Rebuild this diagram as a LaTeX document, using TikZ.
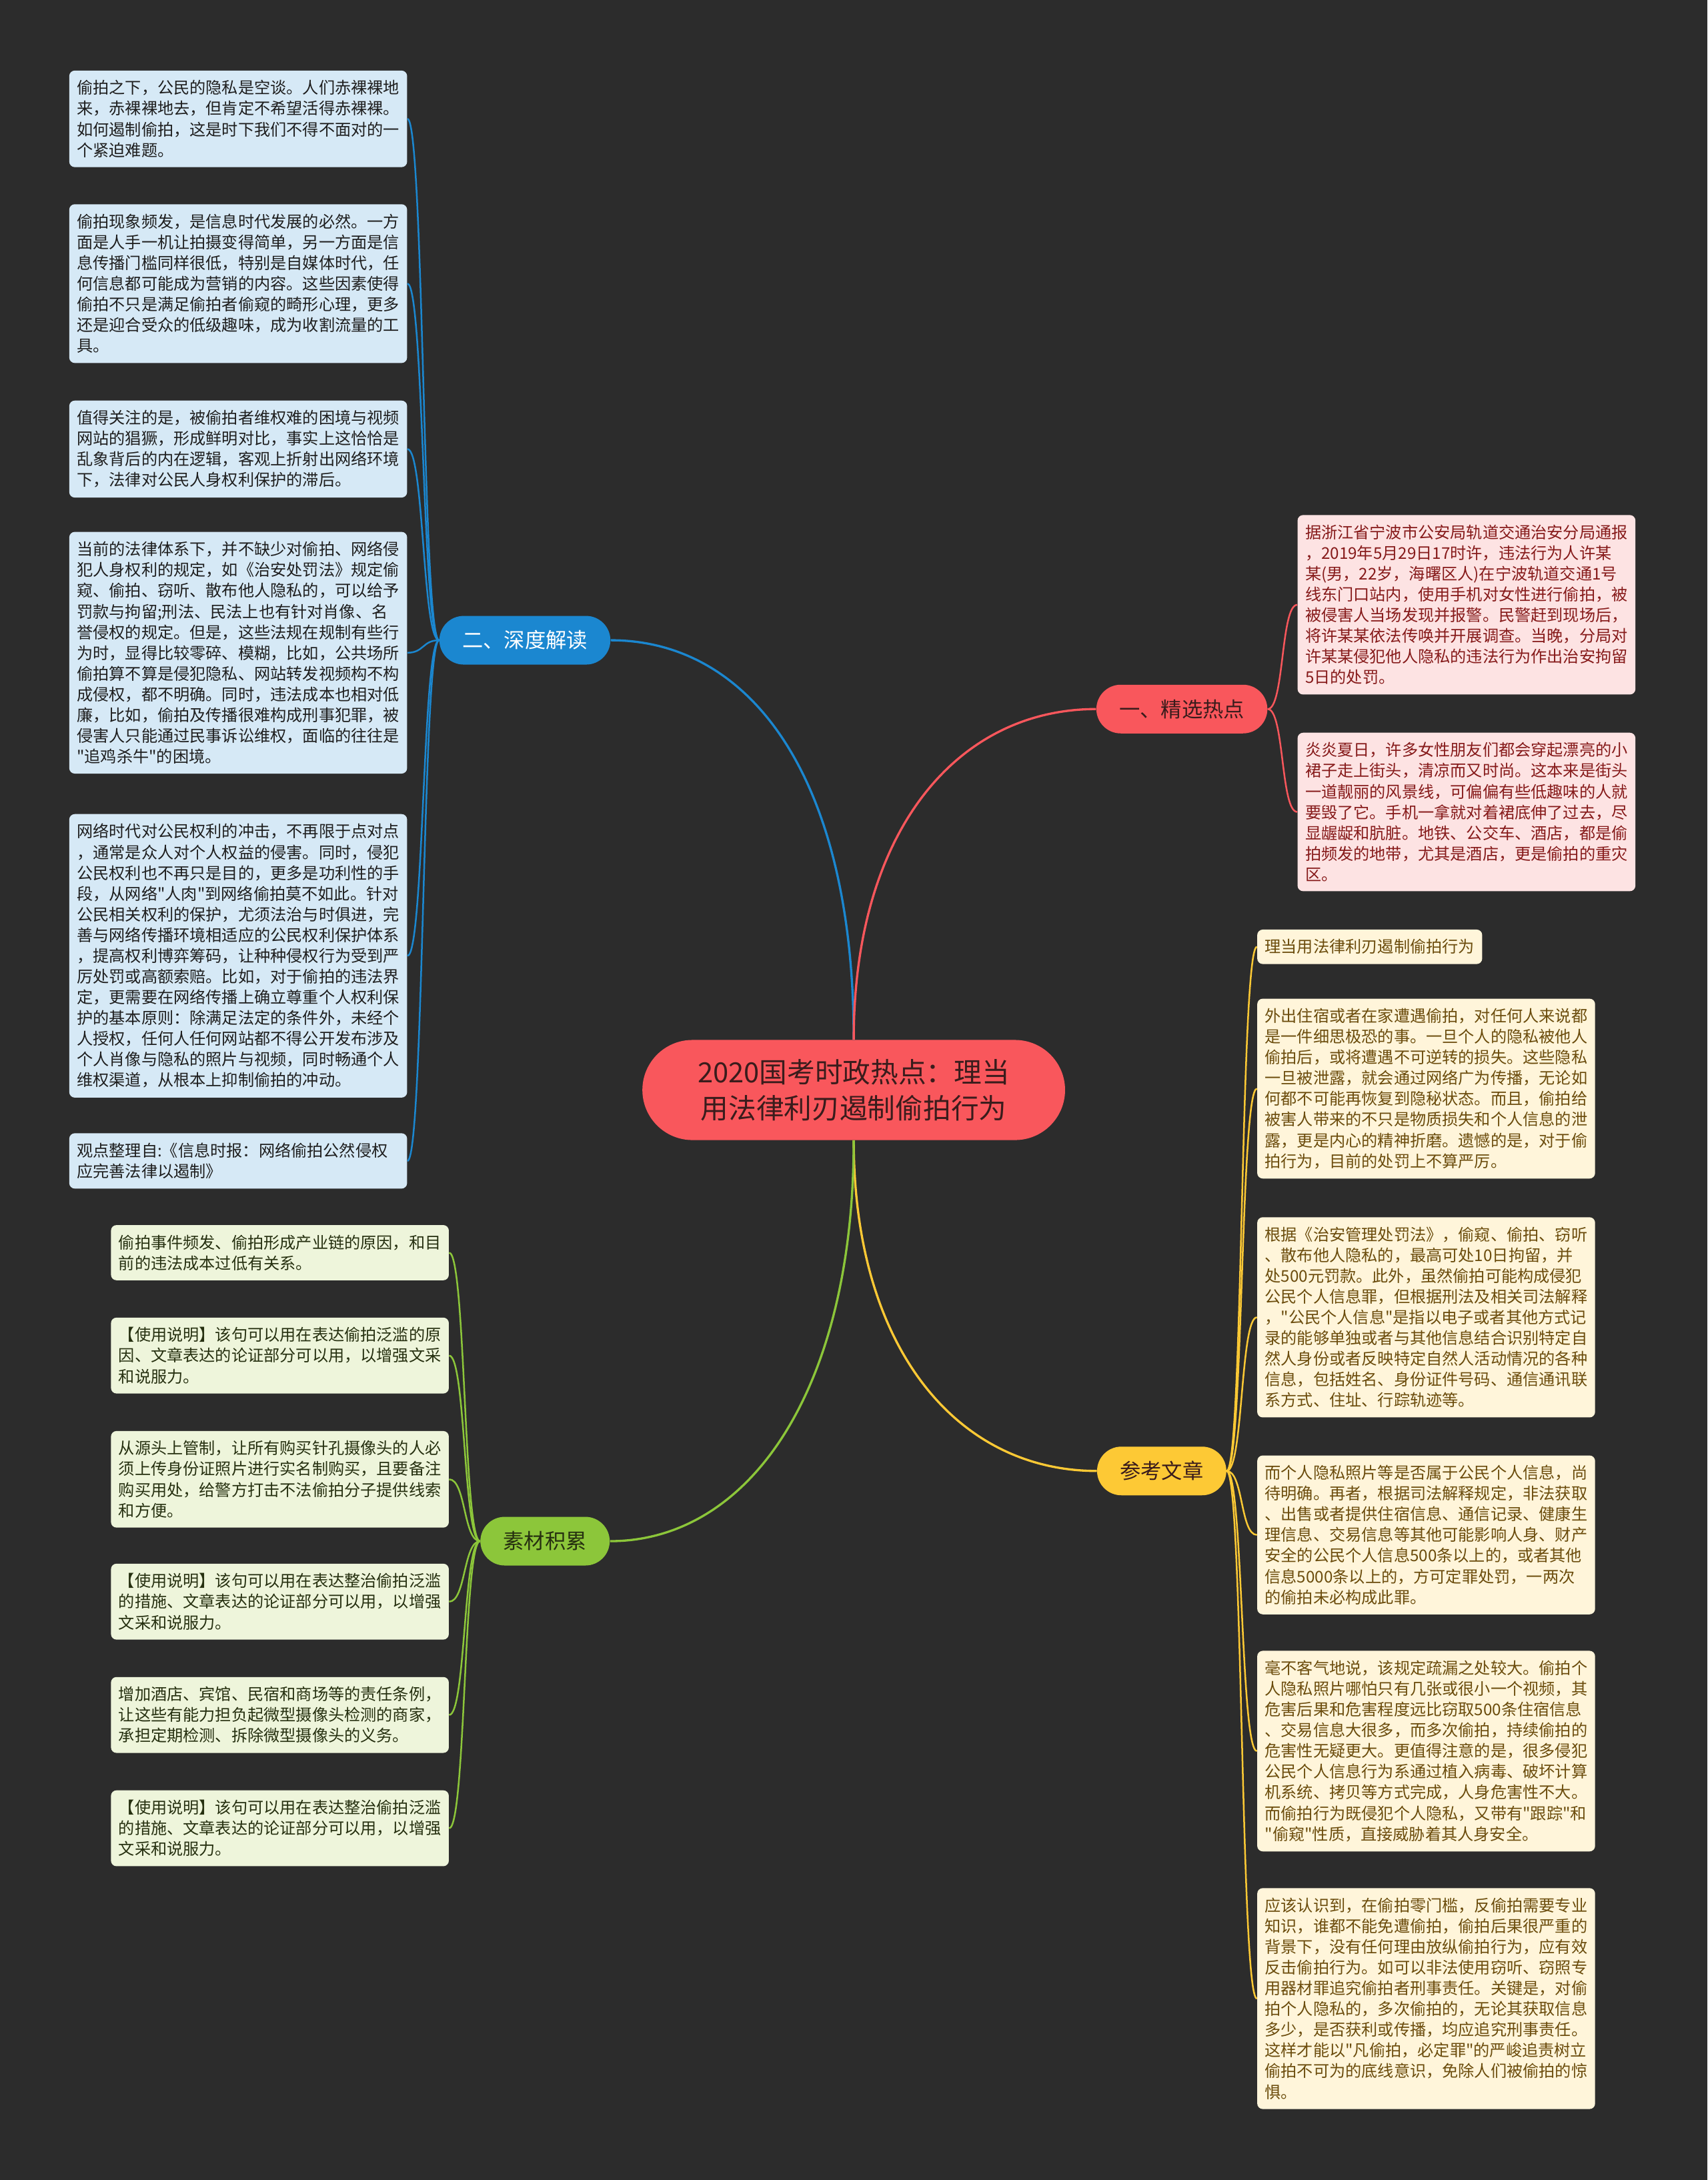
\documentclass[tikz,border=0pt]{standalone}
\usepackage{fontspec}
\setmainfont{Noto Sans CJK SC}
\newfontfamily\cjkfont{Noto Sans CJK SC}
\definecolor{bgdark}{HTML}{2C2C2C}
\definecolor{rootred}{HTML}{F9575C}
\definecolor{darktext}{HTML}{3A1C1C}
\definecolor{sdblue}{HTML}{1B87D0}
\definecolor{sdleaf}{HTML}{D6E9F6}
\definecolor{sdtext}{HTML}{1E1E1E}
\definecolor{rdleaf}{HTML}{FDE3E3}
\definecolor{rdtext}{HTML}{861A1A}
\definecolor{ykyellow}{HTML}{FDC935}
\definecolor{ykleaf}{HTML}{FFF5DA}
\definecolor{yktext}{HTML}{6B4C0C}
\definecolor{scgreen}{HTML}{8CC63A}
\definecolor{scleaf}{HTML}{EEF5DB}
\definecolor{sctext}{HTML}{263010}
\begin{document}
\begin{tikzpicture}[x=1pt,y=-1pt,
  leaf/.style={rounded corners=4pt,inner xsep=5.5pt,inner ysep=7pt,font=\cjkfont\fontsize{11.6pt}{14.9pt}\selectfont},
  para/.style={leaf,text width=232pt,align=left},
  topic/.style={rounded corners=17.5pt,minimum height=35pt,inner xsep=16.5pt,inner ysep=0pt,font=\cjkfont\fontsize{15pt}{18pt}\selectfont},
  bigline/.style={line width=1.6pt},
  smallline/.style={line width=1.2pt}]
\fill[bgdark] (0,0) rectangle (1228,1568);
\useasboundingbox (0,0) rectangle (1228,1568);

\node[fill=rootred,text=darktext,rounded corners=36pt,minimum width=304pt,minimum height=72pt,align=center,font=\cjkfont\fontsize{20pt}{26pt}\selectfont] at (614,784) (root) {2020国考时政热点：理当\\用法律利刃遏制偷拍行为};

\node[topic,fill=sdblue,text=white] at (377.5,460.5) (sd) {二、深度解读};
\node[topic,fill=rootred,text=darktext] at (850,510) (jx) {一、精选热点};
\node[topic,fill=ykyellow,text=darktext] at (835.5,1058) (ck) {参考文章};
\node[topic,fill=scgreen,text=sctext] at (392,1108.5) (sc) {素材积累};

\draw[bigline,sdblue] (root.north) .. controls +(0,-188) and +(101,0) .. (sd.east);
\draw[bigline,rootred] (root.north) .. controls +(0,-150) and +(-100,0) .. (jx.west);
\draw[bigline,ykyellow] (root.south) .. controls +(0,150) and +(-100,0) .. (ck.west);
\draw[bigline,scgreen] (root.south) .. controls +(0,180) and +(100,0) .. (sc.east);

\node[para,fill=sdleaf,text=sdtext,anchor=east] at (293,85.5) (sd1) {偷拍之下，公民的隐私是空谈。人们赤裸裸地\\来，赤裸裸地去，但肯定不希望活得赤裸裸。\\如何遏制偷拍，这是时下我们不得不面对的一\\个紧迫难题。};
\node[para,fill=sdleaf,text=sdtext,anchor=east] at (293,204) (sd2) {偷拍现象频发，是信息时代发展的必然。一方\\面是人手一机让拍摄变得简单，另一方面是信\\息传播门槛同样很低，特别是自媒体时代，任\\何信息都可能成为营销的内容。这些因素使得\\偷拍不只是满足偷拍者偷窥的畸形心理，更多\\还是迎合受众的低级趣味，成为收割流量的工\\具。};
\node[para,fill=sdleaf,text=sdtext,anchor=east] at (293,323) (sd3) {值得关注的是，被偷拍者维权难的困境与视频\\网站的猖獗，形成鲜明对比，事实上这恰恰是\\乱象背后的内在逻辑，客观上折射出网络环境\\下，法律对公民人身权利保护的滞后。};
\node[para,fill=sdleaf,text=sdtext,anchor=east] at (293,469.5) (sd4) {当前的法律体系下，并不缺少对偷拍、网络侵\\犯人身权利的规定，如《治安处罚法》规定偷\\窥、偷拍、窃听、散布他人隐私的，可以给予\\罚款与拘留;刑法、民法上也有针对肖像、名\\誉侵权的规定。但是，这些法规在规制有些行\\为时，显得比较零碎、模糊，比如，公共场所\\偷拍算不算是侵犯隐私、网站转发视频构不构\\成侵权，都不明确。同时，违法成本也相对低\\廉，比如，偷拍及传播很难构成刑事犯罪，被\\侵害人只能通过民事诉讼维权，面临的往往是\\"追鸡杀牛"的困境。};
\node[para,fill=sdleaf,text=sdtext,anchor=east] at (293,687.5) (sd5) {网络时代对公民权利的冲击，不再限于点对点\\，通常是众人对个人权益的侵害。同时，侵犯\\公民权利也不再只是目的，更多是功利性的手\\段，从网络"人肉"到网络偷拍莫不如此。针对\\公民相关权利的保护，尤须法治与时俱进，完\\善与网络传播环境相适应的公民权利保护体系\\，提高权利博弈筹码，让种种侵权行为受到严\\厉处罚或高额索赔。比如，对于偷拍的违法界\\定，更需要在网络传播上确立尊重个人权利保\\护的基本原则：除满足法定的条件外，未经个\\人授权，任何人任何网站都不得公开发布涉及\\个人肖像与隐私的照片与视频，同时畅通个人\\维权渠道，从根本上抑制偷拍的冲动。};
\node[para,fill=sdleaf,text=sdtext,anchor=east] at (293,835) (sd6) {观点整理自:《信息时报：网络偷拍公然侵权\\应完善法律以遏制》};

\node[para,fill=rdleaf,text=rdtext,anchor=west] at (933,435) (jx1) {据浙江省宁波市公安局轨道交通治安分局通报\\，2019年5月29日17时许，违法行为人许某\\某(男，22岁，海曙区人)在宁波轨道交通1号\\线东门口站内，使用手机对女性进行偷拍，被\\被侵害人当场发现并报警。民警赶到现场后，\\将许某某依法传唤并开展调查。当晚，分局对\\许某某侵犯他人隐私的违法行为作出治安拘留\\5日的处罚。};
\node[para,fill=rdleaf,text=rdtext,anchor=west] at (933,584) (jx2) {炎炎夏日，许多女性朋友们都会穿起漂亮的小\\裙子走上街头，清凉而又时尚。这本来是街头\\一道靓丽的风景线，可偏偏有些低趣味的人就\\要毁了它。手机一拿就对着裙底伸了过去，尽\\显龌龊和肮脏。地铁、公交车、酒店，都是偷\\拍频发的地带，尤其是酒店，更是偷拍的重灾\\区。};

\node[leaf,fill=ykleaf,text=yktext,anchor=west] at (904,681) (ck1) {理当用法律利刃遏制偷拍行为};
\node[para,fill=ykleaf,text=yktext,anchor=west] at (904,783) (ck2) {外出住宿或者在家遭遇偷拍，对任何人来说都\\是一件细思极恐的事。一旦个人的隐私被他人\\偷拍后，或将遭遇不可逆转的损失。这些隐私\\一旦被泄露，就会通过网络广为传播，无论如\\何都不可能再恢复到隐秘状态。而且，偷拍给\\被害人带来的不只是物质损失和个人信息的泄\\露，更是内心的精神折磨。遗憾的是，对于偷\\拍行为，目前的处罚上不算严厉。};
\node[para,fill=ykleaf,text=yktext,anchor=west] at (904,947.5) (ck3) {根据《治安管理处罚法》，偷窥、偷拍、窃听\\、散布他人隐私的，最高可处10日拘留，并\\处500元罚款。此外，虽然偷拍可能构成侵犯\\公民个人信息罪，但根据刑法及相关司法解释\\，"公民个人信息"是指以电子或者其他方式记\\录的能够单独或者与其他信息结合识别特定自\\然人身份或者反映特定自然人活动情况的各种\\信息，包括姓名、身份证件号码、通信通讯联\\系方式、住址、行踪轨迹等。};
\node[para,fill=ykleaf,text=yktext,anchor=west] at (904,1104) (ck4) {而个人隐私照片等是否属于公民个人信息，尚\\待明确。再者，根据司法解释规定，非法获取\\、出售或者提供住宿信息、通信记录、健康生\\理信息、交易信息等其他可能影响人身、财产\\安全的公民个人信息500条以上的，或者其他\\信息5000条以上的，方可定罪处罚，一两次\\的偷拍未必构成此罪。};
\node[para,fill=ykleaf,text=yktext,anchor=west] at (904,1259.5) (ck5) {毫不客气地说，该规定疏漏之处较大。偷拍个\\人隐私照片哪怕只有几张或很小一个视频，其\\危害后果和危害程度远比窃取500条住宿信息\\、交易信息大很多，而多次偷拍，持续偷拍的\\危害性无疑更大。更值得注意的是，很多侵犯\\公民个人信息行为系通过植入病毒、破坏计算\\机系统、拷贝等方式完成，人身危害性不大。\\而偷拍行为既侵犯个人隐私，又带有"跟踪"和\\"偷窥"性质，直接威胁着其人身安全。};
\node[para,fill=ykleaf,text=yktext,anchor=west] at (904,1437.5) (ck6) {应该认识到，在偷拍零门槛，反偷拍需要专业\\知识，谁都不能免遭偷拍，偷拍后果很严重的\\背景下，没有任何理由放纵偷拍行为，应有效\\反击偷拍行为。如可以非法使用窃听、窃照专\\用器材罪追究偷拍者刑事责任。关键是，对偷\\拍个人隐私的，多次偷拍的，无论其获取信息\\多少，是否获利或传播，均应追究刑事责任。\\这样才能以"凡偷拍，必定罪"的严峻追责树立\\偷拍不可为的底线意识，免除人们被偷拍的惊\\惧。};

\node[para,fill=scleaf,text=sctext,anchor=east] at (323,901) (sc1) {偷拍事件频发、偷拍形成产业链的原因，和目\\前的违法成本过低有关系。};
\node[para,fill=scleaf,text=sctext,anchor=east] at (323,975) (sc2) {【使用说明】该句可以用在表达偷拍泛滥的原\\因、文章表达的论证部分可以用，以增强文采\\和说服力。};
\node[para,fill=scleaf,text=sctext,anchor=east] at (323,1064) (sc3) {从源头上管制，让所有购买针孔摄像头的人必\\须上传身份证照片进行实名制购买，且要备注\\购买用处，给警方打击不法偷拍分子提供线索\\和方便。};
\node[para,fill=scleaf,text=sctext,anchor=east] at (323,1152) (sc4) {【使用说明】该句可以用在表达整治偷拍泛滥\\的措施、文章表达的论证部分可以用，以增强\\文采和说服力。};
\node[para,fill=scleaf,text=sctext,anchor=east] at (323,1233.5) (sc5) {增加酒店、宾馆、民宿和商场等的责任条例，\\让这些有能力担负起微型摄像头检测的商家，\\承担定期检测、拆除微型摄像头的义务。};
\node[para,fill=scleaf,text=sctext,anchor=east] at (323,1315) (sc6) {【使用说明】该句可以用在表达整治偷拍泛滥\\的措施、文章表达的论证部分可以用，以增强\\文采和说服力。};

\draw[smallline,sdblue] (sd.west) .. controls +(-12,0) and +(12,0) .. (sd1.east);
\draw[smallline,sdblue] (sd.west) .. controls +(-12,0) and +(12,0) .. (sd2.east);
\draw[smallline,sdblue] (sd.west) .. controls +(-12,0) and +(12,0) .. (sd3.east);
\draw[smallline,sdblue] (sd.west) .. controls +(-12,0) and +(12,0) .. (sd4.east);
\draw[smallline,sdblue] (sd.west) .. controls +(-12,0) and +(12,0) .. (sd5.east);
\draw[smallline,sdblue] (sd.west) .. controls +(-12,0) and +(12,0) .. (sd6.east);
\draw[smallline,rootred] (jx.east) .. controls +(12,0) and +(-12,0) .. (jx1.west);
\draw[smallline,rootred] (jx.east) .. controls +(12,0) and +(-12,0) .. (jx2.west);
\draw[smallline,ykyellow] (ck.east) .. controls +(12,0) and +(-12,0) .. (ck1.west);
\draw[smallline,ykyellow] (ck.east) .. controls +(12,0) and +(-12,0) .. (ck2.west);
\draw[smallline,ykyellow] (ck.east) .. controls +(12,0) and +(-12,0) .. (ck3.west);
\draw[smallline,ykyellow] (ck.east) .. controls +(12,0) and +(-12,0) .. (ck4.west);
\draw[smallline,ykyellow] (ck.east) .. controls +(12,0) and +(-12,0) .. (ck5.west);
\draw[smallline,ykyellow] (ck.east) .. controls +(12,0) and +(-12,0) .. (ck6.west);
\draw[smallline,scgreen] (sc.west) .. controls +(-12,0) and +(12,0) .. (sc1.east);
\draw[smallline,scgreen] (sc.west) .. controls +(-12,0) and +(12,0) .. (sc2.east);
\draw[smallline,scgreen] (sc.west) .. controls +(-12,0) and +(12,0) .. (sc3.east);
\draw[smallline,scgreen] (sc.west) .. controls +(-12,0) and +(12,0) .. (sc4.east);
\draw[smallline,scgreen] (sc.west) .. controls +(-12,0) and +(12,0) .. (sc5.east);
\draw[smallline,scgreen] (sc.west) .. controls +(-12,0) and +(12,0) .. (sc6.east);
\end{tikzpicture}
\end{document}
